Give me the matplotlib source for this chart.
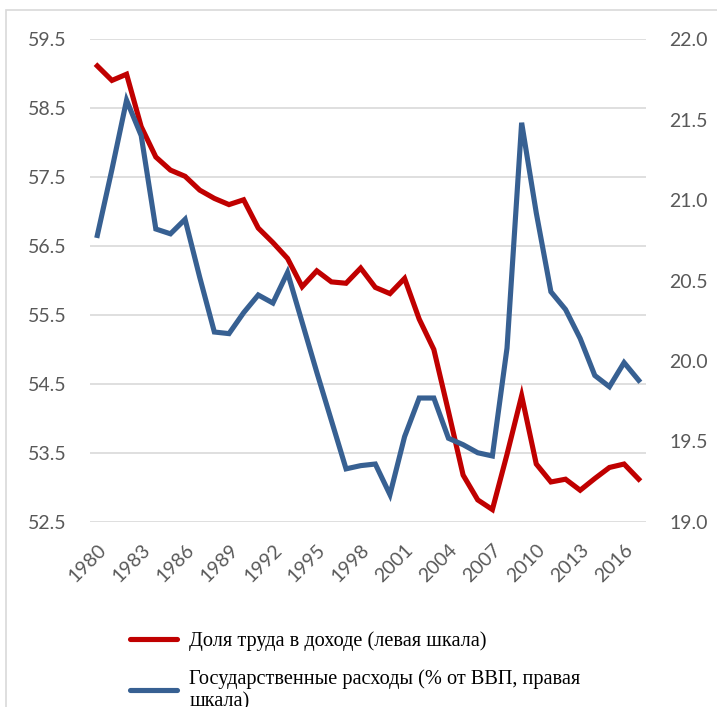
import numpy as np
import matplotlib
matplotlib.use('Agg')
import matplotlib.pyplot as plt
import matplotlib.transforms as mtransforms
from matplotlib.lines import Line2D
from matplotlib.patches import Rectangle

### Data
years = list(range(1980, 2018))

# Labour share of income (left axis)
labour_share = [59.11, 58.90, 58.99, 58.23, 57.79, 57.60, 57.51, 57.31, 57.19, 57.10,
                57.17, 56.76, 56.55, 56.32, 55.91, 56.14, 55.98, 55.96, 56.18, 55.90,
                55.81, 56.03, 55.44, 55.00, 54.10, 53.18, 52.82, 52.68, 53.48, 54.33,
                53.34, 53.08, 53.12, 52.96, 53.13, 53.29, 53.34, 53.12]

# Government spending, % of GDP (right axis)
gov_spending = [20.78, 21.19, 21.62, 21.40, 20.82, 20.79, 20.88, 20.52, 20.18, 20.17,
                20.30, 20.41, 20.36, 20.55, 20.24, 19.93, 19.63, 19.33, 19.35, 19.36,
                19.17, 19.53, 19.77, 19.77, 19.52, 19.48, 19.43, 19.41, 20.08, 21.48,
                20.92, 20.43, 20.32, 20.14, 19.91, 19.84, 19.99, 19.88]

left_ticks = [52.5, 53.5, 54.5, 55.5, 56.5, 57.5, 58.5, 59.5]
right_ticks = [19.0, 19.5, 20.0, 20.5, 21.0, 21.5, 22.0]
x_ticks = years[::3]

label_left = 'Доля труда в доходе (левая шкала)'
label_right = 'Государственные расходы (% от ВВП, правая\nшкала)'

RED = '#C00000'
BLUE = '#376092'
GREY = '#595959'

plt.rcParams['font.family'] = ['Lato', 'DejaVu Sans']

fig = plt.figure(figsize=(7.17, 7.07), dpi=100)

# light chart frame (only the top and left edges show in the crop)
fig.patches.append(Rectangle((0.008, -0.1), 1.1, 1.086, transform=fig.transFigure,
                             fill=False, edgecolor='#D9D9D9', lw=1.2))

ax = fig.add_axes([0.1255, 0.2617, 0.7755, 0.6831])
ax2 = ax.twinx()

ax.plot(years, labour_share, color=RED, lw=3.7, solid_joinstyle='miter')
ax2.plot(years, gov_spending, color=BLUE, lw=3.7, solid_joinstyle='miter')

ax.set_xlim(1979.5, 2017.5)
ax.set_ylim(52.5, 59.5)
ax2.set_ylim(19.0, 22.0)

ax.set_yticks(left_ticks)
ax.set_yticklabels(['%.1f' % v for v in left_ticks])
ax2.set_yticks(right_ticks)
ax2.set_yticklabels(['%.1f' % v for v in right_ticks])
ax.set_xticks(x_ticks)
ax.set_xticklabels([str(y) for y in x_ticks], rotation=45, ha='right',
                   va='top', rotation_mode='anchor')
shift = mtransforms.ScaledTranslation(-4 / 100, 0, fig.dpi_scale_trans)
for lab in ax.get_xticklabels():
    lab.set_transform(lab.get_transform() + shift)

ax.grid(axis='y', color='#D9D9D9', lw=1.2)
ax.set_axisbelow(True)
for a in (ax, ax2):
    for s in a.spines.values():
        s.set_visible(False)
    a.tick_params(length=0, labelsize=14, labelcolor=GREY)
ax.tick_params(axis='y', pad=17)
ax2.tick_params(axis='y', pad=17)
ax.tick_params(axis='x', pad=14)

handles = [Line2D([], [], color=RED, lw=3.7, solid_capstyle='round'),
           Line2D([], [], color=BLUE, lw=3.7, solid_capstyle='round')]
fig.legend(handles, [label_left, label_right], loc='upper left',
           bbox_to_anchor=(0.182, 0.107), frameon=False, handlelength=2.3,
           handletextpad=0.6, labelspacing=0.9, borderpad=0, borderaxespad=0,
           prop={'family': 'Liberation Serif', 'size': 14.6})

fig.savefig('out.png', dpi=100)
